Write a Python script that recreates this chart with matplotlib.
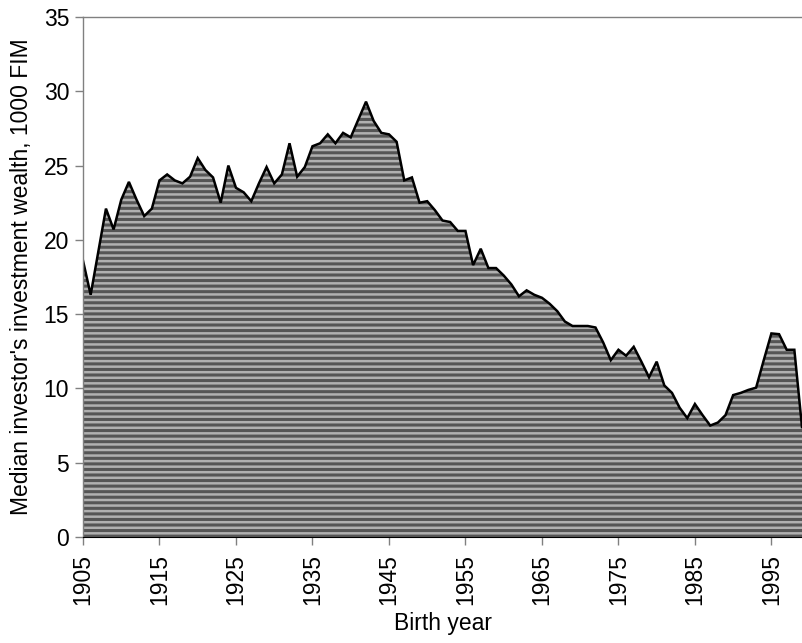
import matplotlib.pyplot as plt
import matplotlib as mpl
import numpy as np

# median wealth by birth year
years = np.arange(1905, 2000)
wealth = [
    18.6, 16.3, 19.2, 22.1, 20.7, 22.7, 23.9, 22.7, 21.6, 22.1,   # 1905-1914
    24.0, 24.4, 24.0, 23.8, 24.25, 25.5, 24.7, 24.2, 22.5, 25.0,  # 1915-1924
    23.5, 23.2, 22.6, 23.8, 24.9, 23.8, 24.4, 26.5, 24.25, 24.9,  # 1925-1934
    26.3, 26.5, 27.1, 26.5, 27.2, 26.9, 28.1, 29.3, 28.0, 27.2,   # 1935-1944
    27.1, 26.6, 24.0, 24.2, 22.5, 22.6, 22.0, 21.3, 21.2, 20.6,   # 1945-1954
    20.6, 18.3, 19.4, 18.1, 18.1, 17.6, 17.0, 16.2, 16.6, 16.3,   # 1955-1964
    16.1, 15.7, 15.2, 14.5, 14.2, 14.2, 14.2, 14.1, 13.1, 11.9,   # 1965-1974
    12.6, 12.2, 12.8, 11.8, 10.75, 11.8, 10.2, 9.7, 8.7, 8.0,     # 1975-1984
    8.95, 8.2, 7.5, 7.7, 8.2, 9.55, 9.7, 9.9, 10.05, 11.9,        # 1985-1994
    13.7, 13.65, 12.6, 12.6, 7.4,                                 # 1995-1999
]
xticks = np.arange(1905, 2000, 10)
yticks = np.arange(0, 36, 5)

plt.rcParams['font.family'] = ['Liberation Sans', 'DejaVu Sans']
mpl.rcParams['hatch.linewidth'] = 2.2
mpl.rcParams['hatch.color'] = '#555555'

fig = plt.figure(figsize=(8.02, 6.43), dpi=100)
ax = fig.add_axes([0.1035, 0.1649, 0.8965, 0.8087])

ax.fill_between(years, wealth, 0, facecolor='#b0b0b0', hatch='---',
                edgecolor='#555555', linewidth=0)
ax.plot(years, wealth, color='black', lw=1.8, solid_joinstyle='miter')

ax.set_xlim(1905, 1999)
ax.set_ylim(0, 35)
ax.set_xticks(xticks)
ax.set_xticklabels([str(y) for y in xticks], rotation=90)
ax.set_yticks(yticks)

for side in ['left', 'top']:
    ax.spines[side].set_color('#808080')
    ax.spines[side].set_linewidth(1.0)
ax.spines['bottom'].set_color('black')
ax.spines['right'].set_visible(False)
ax.tick_params(axis='both', direction='out', length=6, width=1,
               color='#808080', labelsize=16.5)
ax.tick_params(axis='x', pad=6)
ax.tick_params(axis='y', pad=4)

ax.set_xlabel('Birth year', fontsize=16.5, labelpad=5)
ax.set_ylabel("Median investor's investment wealth, 1000 FIM", fontsize=16.5, labelpad=8)

fig.savefig('out.png', dpi=100)
